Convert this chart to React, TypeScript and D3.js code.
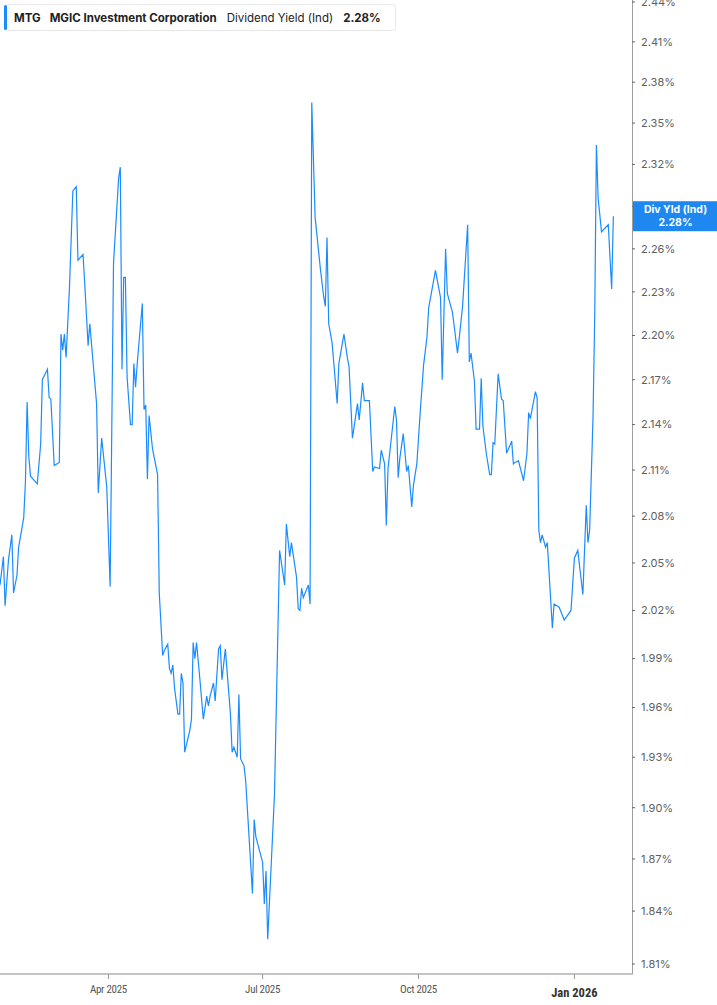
import { useRef, useEffect } from 'react';
import * as d3 from 'd3';

const W = 717;
const H = 1005;
const PLOT_RIGHT = 632;
const PLOT_BOTTOM = 974;

const TICKER = 'MTG';
const COMPANY = 'MGIC Investment Corporation';
const METRIC = 'Dividend Yield (Ind)';
const SHORT_METRIC = 'Div Yld (Ind)';

const DATES = [
  '2025-01-27', '2025-01-29', '2025-01-30', '2025-02-01', '2025-02-03', '2025-02-04', '2025-02-06', '2025-02-07',
  '2025-02-10', '2025-02-11', '2025-02-12', '2025-02-13', '2025-02-14', '2025-02-18', '2025-02-20', '2025-02-21',
  '2025-02-24', '2025-02-25', '2025-02-26', '2025-02-28', '2025-03-03', '2025-03-04', '2025-03-05', '2025-03-06',
  '2025-03-07', '2025-03-09', '2025-03-11', '2025-03-13', '2025-03-14', '2025-03-17', '2025-03-18', '2025-03-20',
  '2025-03-21', '2025-03-25', '2025-03-26', '2025-03-28', '2025-03-31', '2025-04-02', '2025-04-04', '2025-04-07',
  '2025-04-08', '2025-04-09', '2025-04-10', '2025-04-11', '2025-04-12', '2025-04-14', '2025-04-15', '2025-04-16',
  '2025-04-17', '2025-04-18', '2025-04-21', '2025-04-22', '2025-04-23', '2025-04-24', '2025-04-25', '2025-04-27',
  '2025-04-30', '2025-05-01', '2025-05-03', '2025-05-04', '2025-05-06', '2025-05-07', '2025-05-08', '2025-05-09',
  '2025-05-10', '2025-05-12', '2025-05-13', '2025-05-14', '2025-05-15', '2025-05-16', '2025-05-19', '2025-05-20',
  '2025-05-21', '2025-05-22', '2025-05-23', '2025-05-25', '2025-05-27', '2025-05-29', '2025-05-30', '2025-05-31',
  '2025-06-02', '2025-06-03', '2025-06-05', '2025-06-06', '2025-06-07', '2025-06-09', '2025-06-12', '2025-06-13',
  '2025-06-14', '2025-06-16', '2025-06-17', '2025-06-18', '2025-06-20', '2025-06-21', '2025-06-25', '2025-06-26',
  '2025-06-27', '2025-07-01', '2025-07-02', '2025-07-03', '2025-07-04', '2025-07-08', '2025-07-11', '2025-07-14',
  '2025-07-15', '2025-07-17', '2025-07-18', '2025-07-21', '2025-07-22', '2025-07-23', '2025-07-24', '2025-07-25',
  '2025-07-28', '2025-07-29', '2025-07-30', '2025-08-01', '2025-08-04', '2025-08-06', '2025-08-07', '2025-08-08',
  '2025-08-09', '2025-08-11', '2025-08-14', '2025-08-15', '2025-08-18', '2025-08-20', '2025-08-21', '2025-08-23',
  '2025-08-26', '2025-08-27', '2025-08-29', '2025-08-30', '2025-09-02', '2025-09-04', '2025-09-05', '2025-09-08',
  '2025-09-09', '2025-09-11', '2025-09-12', '2025-09-13', '2025-09-17', '2025-09-18', '2025-09-19', '2025-09-20',
  '2025-09-22', '2025-09-24', '2025-09-25', '2025-09-27', '2025-09-28', '2025-09-30', '2025-10-02', '2025-10-04',
  '2025-10-06', '2025-10-07', '2025-10-11', '2025-10-14', '2025-10-15', '2025-10-17', '2025-10-18', '2025-10-21',
  '2025-10-22', '2025-10-24', '2025-10-25', '2025-10-27', '2025-10-30', '2025-10-31', '2025-11-01', '2025-11-03',
  '2025-11-04', '2025-11-06', '2025-11-07', '2025-11-08', '2025-11-10', '2025-11-12', '2025-11-13', '2025-11-14',
  '2025-11-15', '2025-11-17', '2025-11-19', '2025-11-20', '2025-11-22', '2025-11-25', '2025-11-26', '2025-11-27',
  '2025-11-29', '2025-12-02', '2025-12-04', '2025-12-05', '2025-12-06', '2025-12-09', '2025-12-10', '2025-12-11',
  '2025-12-12', '2025-12-13', '2025-12-15', '2025-12-16', '2025-12-19', '2025-12-20', '2025-12-23', '2025-12-26',
  '2025-12-30', '2026-01-01', '2026-01-03', '2026-01-06', '2026-01-08', '2026-01-09', '2026-01-10', '2026-01-12',
  '2026-01-13', '2026-01-14', '2026-01-15', '2026-01-17', '2026-01-21', '2026-01-23', '2026-01-24',
];

// dividend yield, percent
const YIELDS = [
  2.036, 2.054, 2.023, 2.052, 2.068, 2.031, 2.042, 2.06,
  2.079, 2.102, 2.155, 2.119, 2.106, 2.101, 2.127, 2.17,
  2.177, 2.158, 2.157, 2.113, 2.115, 2.201, 2.19, 2.201,
  2.185, 2.233, 2.301, 2.304, 2.252, 2.256, 2.236, 2.193,
  2.208, 2.154, 2.095, 2.131, 2.099, 2.035, 2.25, 2.31,
  2.318, 2.177, 2.24, 2.24, 2.172, 2.14, 2.14, 2.181,
  2.165, 2.181, 2.222, 2.15, 2.153, 2.104, 2.146, 2.124,
  2.107, 2.031, 1.992, 1.995, 1.999, 1.984, 1.981, 1.986,
  1.972, 1.956, 1.956, 1.981, 1.975, 1.933, 1.946, 1.953,
  2.0, 1.99, 2.0, 1.977, 1.953, 1.967, 1.961, 1.967,
  1.975, 1.964, 1.996, 1.998, 1.977, 1.996, 1.956, 1.933,
  1.936, 1.93, 1.968, 1.929, 1.925, 1.916, 1.85, 1.893,
  1.883, 1.868, 1.844, 1.863, 1.824, 1.908, 2.058, 2.036,
  2.075, 2.054, 2.063, 2.041, 2.021, 2.02, 2.034, 2.028,
  2.036, 2.024, 2.365, 2.282, 2.247, 2.227, 2.22, 2.268,
  2.208, 2.195, 2.154, 2.181, 2.201, 2.185, 2.179, 2.131,
  2.154, 2.143, 2.168, 2.156, 2.156, 2.109, 2.112, 2.111,
  2.123, 2.114, 2.074, 2.111, 2.152, 2.143, 2.105, 2.118,
  2.134, 2.109, 2.113, 2.086, 2.1, 2.114, 2.148, 2.18,
  2.199, 2.219, 2.245, 2.226, 2.17, 2.26, 2.229, 2.216,
  2.207, 2.188, 2.198, 2.22, 2.277, 2.182, 2.188, 2.169,
  2.137, 2.137, 2.171, 2.139, 2.121, 2.107, 2.107, 2.128,
  2.127, 2.174, 2.157, 2.156, 2.121, 2.129, 2.114, 2.115,
  2.116, 2.103, 2.121, 2.148, 2.144, 2.162, 2.158, 2.071,
  2.063, 2.068, 2.06, 2.063, 2.009, 2.024, 2.022, 2.014,
  2.02, 2.053, 2.058, 2.03, 2.087, 2.063, 2.071, 2.145,
  2.213, 2.334, 2.296, 2.272, 2.277, 2.232, 2.283,
];

const Y_TICKS = [
  1.81, 1.84, 1.87, 1.9, 1.93, 1.96, 1.99, 2.02, 2.05, 2.08, 2.11,
  2.14, 2.17, 2.2, 2.23, 2.26, 2.29, 2.32, 2.35, 2.38, 2.41, 2.44,
];
const X_START = '2025-01-27';
const X_END = '2026-02-04';

const LINE_COLOR = '#1a8cff';
const FONT = 'Inter, Roboto, "Noto Sans", sans-serif';

export default function App() {
  const svgRef = useRef<SVGSVGElement>(null);

  useEffect(() => {
    document.body.style.margin = '0';
    const svg = d3.select(svgRef.current);
    svg.selectAll('*').remove();

    const parse = d3.timeParse('%Y-%m-%d');
    const data = DATES.map((d, i) => ({ date: parse(d)!, value: YIELDS[i] }));

    const x = d3
      .scaleTime()
      .domain([parse(X_START)!, parse(X_END)!])
      .range([0, PLOT_RIGHT]);
    const y = d3.scaleLog().domain([1.81, 2.44]).range([964, 2]);

    svg.append('rect').attr('width', W).attr('height', H).attr('fill', '#fff');

    // price line
    const line = d3
      .line<{ date: Date; value: number }>()
      .x((d) => x(d.date))
      .y((d) => y(d.value));
    svg
      .append('path')
      .datum(data)
      .attr('d', line)
      .attr('fill', 'none')
      .attr('stroke', LINE_COLOR)
      .attr('stroke-width', 1.2)
      .attr('stroke-linejoin', 'miter');

    // right axis
    svg
      .append('line')
      .attr('x1', PLOT_RIGHT + 0.5)
      .attr('x2', PLOT_RIGHT + 0.5)
      .attr('y1', 0)
      .attr('y2', PLOT_BOTTOM)
      .attr('stroke', '#9e9e9e')
      .attr('stroke-width', 1);

    const last = data[data.length - 1];
    const ly = y(last.value);

    const yAxis = svg.append('g');
    Y_TICKS.forEach((t) => {
      const ty = y(t);
      yAxis
        .append('line')
        .attr('x1', PLOT_RIGHT)
        .attr('x2', PLOT_RIGHT + 3)
        .attr('y1', ty)
        .attr('y2', ty)
        .attr('stroke', '#666')
        .attr('stroke-width', 1);
      // label hidden under the last-value tag
      if (Math.abs(ty - ly) < 15) return;
      yAxis
        .append('text')
        .attr('x', PLOT_RIGHT + 9)
        .attr('y', ty)
        .attr('dy', '0.35em')
        .attr('font-family', FONT)
        .attr('font-size', 11)
        .attr('fill', '#5f5f5f')
        .text(`${t.toFixed(2)}%`);
    });

    // bottom axis
    svg
      .append('line')
      .attr('x1', 0)
      .attr('x2', PLOT_RIGHT + 1)
      .attr('y1', PLOT_BOTTOM)
      .attr('y2', PLOT_BOTTOM)
      .attr('stroke', '#b0b0b0')
      .attr('stroke-width', 1.5);

    const xTicks = x.ticks(d3.timeMonth.every(3)!);
    const xAxis = svg.append('g');
    xTicks.forEach((t) => {
      const tx = x(t);
      const isYear = t.getMonth() === 0;
      xAxis
        .append('line')
        .attr('x1', tx)
        .attr('x2', tx)
        .attr('y1', PLOT_BOTTOM)
        .attr('y2', PLOT_BOTTOM + 5)
        .attr('stroke', '#999')
        .attr('stroke-width', 1);
      xAxis
        .append('text')
        .attr('x', tx)
        .attr('y', isYear ? 997 : 993)
        .attr('text-anchor', 'middle')
        .attr('font-family', '"Roboto Condensed", Roboto, sans-serif')
        .attr('font-size', isYear ? 12.5 : 11)
        .attr('font-weight', isYear ? 700 : 400)
        .attr('fill', isYear ? '#333' : '#555')
        .attr('letter-spacing', isYear ? 0 : -0.3)
        .text(d3.timeFormat('%b %Y')(t));
    });

    // last value tag
    const tag = svg.append('g');
    tag
      .append('rect')
      .attr('x', PLOT_RIGHT + 1)
      .attr('y', ly - 15)
      .attr('width', W - PLOT_RIGHT - 1)
      .attr('height', 30)
      .attr('fill', '#1e88f0');
    tag
      .append('text')
      .attr('x', (PLOT_RIGHT + W) / 2 + 1)
      .attr('y', ly - 3)
      .attr('text-anchor', 'middle')
      .attr('font-family', FONT)
      .attr('font-size', 10.5)
      .attr('font-weight', 700)
      .attr('fill', '#fff')
      .text(SHORT_METRIC);
    tag
      .append('text')
      .attr('x', (PLOT_RIGHT + W) / 2 + 1)
      .attr('y', ly + 10)
      .attr('text-anchor', 'middle')
      .attr('font-family', FONT)
      .attr('font-size', 10.5)
      .attr('font-weight', 700)
      .attr('fill', '#fff')
      .text(`${last.value.toFixed(2)}%`);

    // header legend
    const head = svg.append('g');
    head
      .append('rect')
      .attr('x', 4.5)
      .attr('y', 4.5)
      .attr('width', 391)
      .attr('height', 26)
      .attr('rx', 3)
      .attr('fill', '#fff')
      .attr('stroke', '#e8e8e8');
    head
      .append('rect')
      .attr('x', 4)
      .attr('y', 5)
      .attr('width', 3)
      .attr('height', 25)
      .attr('rx', 1.5)
      .attr('fill', LINE_COLOR);
    const ht = head
      .append('text')
      .attr('x', 14)
      .attr('y', 21.5)
      .attr('font-family', FONT)
      .attr('font-size', 11.5)
      .attr('fill', '#222');
    ht.append('tspan').attr('font-weight', 700).text(TICKER);
    ht.append('tspan').attr('dx', 9).attr('font-weight', 700).text(COMPANY);
    ht.append('tspan').attr('dx', 10).attr('font-weight', 400).text(METRIC);
    ht.append('tspan').attr('dx', 10).attr('font-weight', 700).text(`${last.value.toFixed(2)}%`);
  }, []);

  return <svg ref={svgRef} width={W} height={H} style={{ display: 'block' }} />;
}
